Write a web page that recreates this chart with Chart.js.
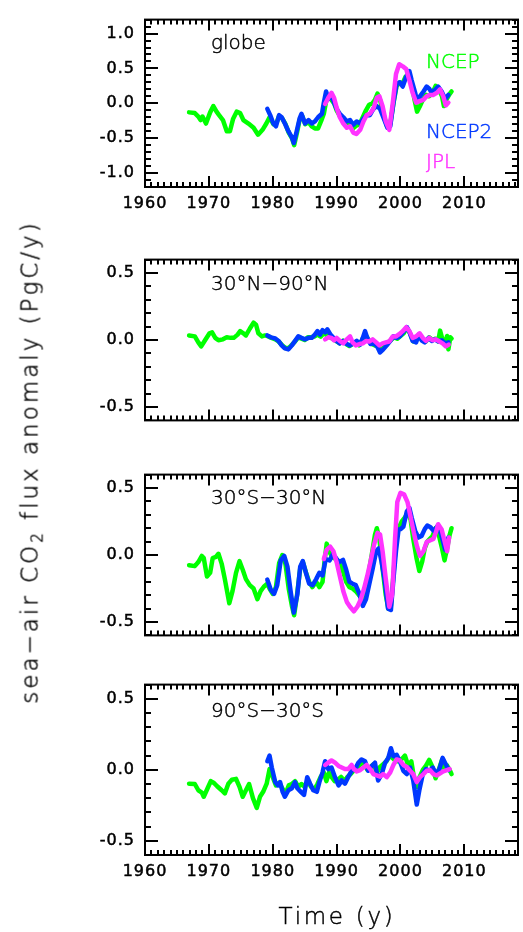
<!DOCTYPE html>
<html><head><meta charset="utf-8">
<script src="https://cdn.jsdelivr.net/npm/chart.js@4.4.1/dist/chart.umd.min.js"></script>
<style>
html,body{margin:0;padding:0;background:#fff;}
#wrap{position:relative;width:523px;height:932px;overflow:hidden;background:#fff;}
canvas{position:absolute;left:0;}
.t{position:absolute;font-family:"DejaVu Sans",sans-serif;font-weight:200;font-size:20px;line-height:20px;white-space:nowrap;color:#000;-webkit-text-stroke:0.45px currentColor;}
</style></head><body>
<div id="wrap">
<canvas id="p0" width="523" height="230" style="top:0px"></canvas>
<canvas id="p1" width="523" height="200" style="top:240px"></canvas>
<canvas id="p2" width="523" height="200" style="top:455px"></canvas>
<canvas id="p3" width="523" height="240" style="top:665px"></canvas>
</div>
<script>
// ---------------- data ----------------
const yearTicks = [1960, 1970, 1980, 1990, 2000, 2010];
const globeTicks = [-1.0, -0.5, 0.0, 0.5, 1.0];
const bandTicks = [-0.5, 0.0, 0.5];
const panelTitles = ['globe', '30°N−90°N', '30°S−30°N', '90°S−30°S'];
const seriesNames = ['NCEP', 'NCEP2', 'JPL'];

const globeNCEP = [[1966.9,-0.13],[1967.8,-0.14],[1968.35,-0.19],[1968.7,-0.24],[1969.0,-0.19],[1969.55,-0.29],[1970.2,-0.13],[1970.7,-0.04],[1971.2,-0.12],[1971.6,-0.17],[1972.2,-0.24],[1972.8,-0.40],[1973.3,-0.40],[1973.8,-0.22],[1974.35,-0.12],[1974.9,-0.14],[1975.4,-0.24],[1976.2,-0.29],[1977.0,-0.35],[1977.7,-0.45],[1978.4,-0.38],[1979.0,-0.29],[1979.5,-0.20],[1980.1,-0.30],[1980.6,-0.28],[1981.0,-0.18],[1981.5,-0.22],[1982.0,-0.30],[1982.5,-0.42],[1983.0,-0.50],[1983.35,-0.60],[1983.8,-0.42],[1984.2,-0.24],[1984.6,-0.18],[1985.1,-0.30],[1985.6,-0.27],[1986.1,-0.33],[1986.6,-0.36],[1987.1,-0.36],[1987.6,-0.25],[1988.0,-0.15],[1988.4,0.05],[1988.8,0.10],[1989.2,0.05],[1989.6,0.0],[1990.0,-0.10],[1990.5,-0.18],[1991.0,-0.22],[1991.6,-0.28],[1992.1,-0.30],[1992.6,-0.36],[1993.1,-0.32],[1993.6,-0.30],[1994.1,-0.20],[1994.6,-0.10],[1995.1,-0.02],[1995.6,0.0],[1996.0,0.05],[1996.4,0.14],[1996.8,0.05],[1997.3,-0.15],[1997.9,-0.33],[1998.4,-0.30],[1998.9,0.0],[1999.4,0.25],[1999.9,0.30],[2000.3,0.28],[2000.8,0.38],[2001.3,0.42],[2001.7,0.30],[2002.2,0.05],[2002.6,-0.12],[2003.0,-0.05],[2003.5,0.05],[2004.0,0.12],[2004.5,0.10],[2005.0,0.15],[2005.5,0.25],[2006.0,0.20],[2006.5,0.10],[2006.8,-0.04],[2007.2,0.05],[2007.6,0.12],[2008.0,0.17]];
const globeNCEP2 = [[1979.15,-0.08],[1979.6,-0.17],[1980.1,-0.29],[1980.5,-0.33],[1981.0,-0.17],[1981.4,-0.20],[1981.9,-0.29],[1982.45,-0.40],[1983.0,-0.49],[1983.3,-0.57],[1983.75,-0.40],[1984.2,-0.22],[1984.5,-0.15],[1985.05,-0.29],[1985.6,-0.24],[1986.1,-0.29],[1986.6,-0.26],[1987.1,-0.20],[1987.7,-0.15],[1988.0,0.01],[1988.35,0.17],[1988.7,0.06],[1989.2,0.12],[1989.6,0.01],[1990.0,-0.08],[1990.5,-0.15],[1991.05,-0.20],[1991.6,-0.26],[1992.1,-0.24],[1992.6,-0.31],[1993.15,-0.26],[1993.7,-0.29],[1994.2,-0.22],[1994.7,-0.17],[1995.2,-0.17],[1995.75,-0.08],[1996.3,-0.04],[1996.8,-0.08],[1997.4,-0.22],[1997.95,-0.35],[1998.4,-0.33],[1998.9,0.01],[1999.4,0.28],[1999.9,0.30],[2000.35,0.24],[2000.9,0.38],[2001.4,0.46],[2001.75,0.33],[2002.3,0.15],[2002.6,0.03],[2003.05,0.10],[2003.6,0.17],[2004.1,0.24],[2004.5,0.21],[2004.9,0.15],[2005.4,0.19],[2005.9,0.24],[2006.45,0.17],[2007.0,0.06],[2007.5,0.12]];
const globeJPL = [[1988.2,-0.01],[1988.7,0.08],[1989.2,0.15],[1989.6,0.08],[1990.0,-0.06],[1990.5,-0.20],[1991.05,-0.29],[1991.6,-0.35],[1992.1,-0.33],[1992.6,-0.42],[1993.1,-0.44],[1993.7,-0.38],[1994.2,-0.26],[1994.7,-0.17],[1995.2,-0.15],[1995.75,-0.08],[1996.3,0.08],[1996.7,0.10],[1997.2,-0.04],[1997.7,-0.26],[1998.25,-0.38],[1998.8,0.01],[1999.3,0.42],[1999.8,0.56],[2000.35,0.53],[2000.9,0.49],[2001.4,0.33],[2001.9,0.15],[2002.45,0.01],[2003.0,0.03],[2003.6,0.05],[2004.1,0.10],[2004.6,0.12],[2005.1,0.12],[2005.7,0.15],[2006.2,0.20],[2006.7,0.10],[2007.1,-0.03],[2007.5,0.01]];

const nhNCEP = [[1966.9,0.034],[1967.8,0.027],[1968.35,-0.018],[1968.8,-0.048],[1969.4,-0.002],[1970.1,0.05],[1970.5,0.057],[1971.0,0.016],[1971.5,-0.002],[1972.2,0.005],[1972.8,0.02],[1973.4,0.016],[1973.9,0.016],[1974.5,0.04],[1974.9,0.066],[1975.4,0.05],[1975.8,0.034],[1976.4,0.084],[1977.0,0.13],[1977.4,0.112],[1977.75,0.05],[1978.3,0.027],[1978.8,0.034],[1979.3,0.027],[1979.8,0.015],[1980.4,0.005],[1980.9,-0.01],[1981.5,-0.04],[1982.0,-0.06],[1982.5,-0.06],[1983.0,-0.035],[1983.5,-0.01],[1984.0,0.02],[1984.5,0.01],[1985.0,0.0],[1985.5,0.02],[1986.0,0.02],[1986.5,0.025],[1987.0,0.04],[1987.5,0.025],[1988.0,0.05],[1988.5,0.035],[1989.0,0.02],[1989.5,0.005],[1990.0,-0.01],[1990.5,-0.025],[1991.0,-0.005],[1991.5,-0.03],[1992.0,-0.045],[1992.5,-0.03],[1993.0,-0.02],[1993.5,-0.04],[1994.0,0.0],[1994.5,0.04],[1995.0,0.0],[1995.5,-0.03],[1996.0,-0.04],[1996.5,-0.05],[1997.0,-0.07],[1997.5,-0.05],[1998.0,-0.02],[1998.5,0.0],[1999.0,0.02],[1999.5,0.01],[2000.0,0.03],[2000.5,0.05],[2001.0,0.09],[2001.5,0.05],[2002.0,-0.01],[2002.5,0.0],[2003.0,0.03],[2003.5,0.0],[2004.0,-0.01],[2004.5,0.02],[2005.0,0.0],[2005.5,0.01],[2005.9,-0.01],[2006.2,0.07],[2006.6,0.0],[2007.0,-0.02],[2007.3,0.03],[2007.5,-0.07],[2007.8,0.02],[2008.0,0.01]];
const nhNCEP2 = [[1979.15,0.034],[1979.7,0.02],[1980.4,0.012],[1980.9,-0.007],[1981.4,-0.04],[1981.9,-0.063],[1982.45,-0.07],[1983.0,-0.04],[1983.5,-0.007],[1984.0,0.027],[1984.5,0.016],[1985.05,0.005],[1985.6,0.016],[1986.1,0.016],[1986.6,0.04],[1987.0,0.066],[1987.4,0.04],[1987.8,0.073],[1988.2,0.057],[1988.55,0.08],[1989.0,0.043],[1989.5,0.016],[1990.0,-0.007],[1990.5,-0.025],[1991.05,-0.007],[1991.6,-0.03],[1992.1,-0.04],[1992.6,-0.025],[1993.15,-0.007],[1993.7,-0.034],[1994.1,0.016],[1994.45,0.066],[1994.8,0.016],[1995.3,-0.03],[1995.85,-0.025],[1996.4,-0.052],[1996.8,-0.093],[1997.3,-0.07],[1997.85,-0.04],[1998.4,-0.007],[1998.9,0.027],[1999.4,0.016],[1999.9,0.027],[2000.45,0.06],[2001.0,0.096],[2001.4,0.06],[2001.9,-0.007],[2002.45,-0.018],[2002.85,0.04],[2003.3,-0.002],[2003.8,-0.018],[2004.4,0.016],[2004.9,-0.007],[2005.4,0.005],[2005.9,-0.011],[2006.45,-0.002],[2007.0,-0.025],[2007.5,-0.018]];
const nhJPL = [[1988.2,0.005],[1988.7,0.02],[1989.2,0.016],[1989.6,-0.002],[1990.0,0.016],[1990.5,-0.007],[1991.05,-0.025],[1991.6,0.005],[1992.1,0.027],[1992.5,-0.018],[1993.0,-0.04],[1993.6,-0.03],[1994.1,-0.025],[1994.6,-0.007],[1995.1,-0.011],[1995.65,0.005],[1996.2,-0.018],[1996.7,-0.04],[1997.2,-0.025],[1997.7,-0.018],[1998.25,-0.011],[1998.8,0.027],[1999.3,0.027],[1999.8,0.043],[2000.35,0.066],[2000.9,0.096],[2001.4,0.066],[2001.9,0.016],[2002.45,0.027],[2003.0,0.05],[2003.5,0.016],[2004.0,-0.007],[2004.5,0.016],[2005.0,-0.002],[2005.5,0.005],[2006.1,-0.011],[2006.6,-0.025],[2007.1,-0.048],[2007.55,-0.034]];

const tropNCEP = [[1966.9,-0.076],[1967.8,-0.083],[1968.35,-0.053],[1968.9,-0.007],[1969.2,-0.023],[1969.7,-0.16],[1970.2,-0.133],[1970.6,-0.023],[1971.1,-0.014],[1971.5,0.009],[1972.0,-0.064],[1972.5,-0.18],[1973.2,-0.36],[1973.7,-0.27],[1974.25,-0.133],[1974.8,-0.046],[1975.3,-0.11],[1975.8,-0.18],[1976.4,-0.225],[1977.0,-0.25],[1977.6,-0.33],[1978.1,-0.27],[1978.6,-0.237],[1979.15,-0.214],[1979.5,-0.25],[1980.0,-0.29],[1980.5,-0.24],[1981.0,-0.06],[1981.5,0.0],[1982.0,-0.07],[1982.5,-0.25],[1983.0,-0.38],[1983.35,-0.45],[1983.8,-0.30],[1984.3,-0.10],[1984.7,-0.05],[1985.2,-0.13],[1985.7,-0.20],[1986.2,-0.24],[1986.8,-0.20],[1987.3,-0.24],[1987.8,-0.20],[1988.1,-0.05],[1988.45,0.085],[1988.9,0.02],[1989.4,-0.02],[1989.9,-0.03],[1990.4,-0.06],[1991.0,-0.12],[1991.5,-0.20],[1992.0,-0.24],[1992.5,-0.25],[1993.0,-0.27],[1993.5,-0.30],[1994.0,-0.32],[1994.5,-0.27],[1995.0,-0.14],[1995.5,0.0],[1996.0,0.15],[1996.3,0.20],[1996.7,0.12],[1997.2,-0.10],[1997.7,-0.30],[1998.1,-0.40],[1998.5,-0.38],[1998.9,-0.15],[1999.3,0.10],[1999.7,0.20],[2000.2,0.25],[2000.7,0.28],[2001.2,0.32],[2001.6,0.26],[2002.0,0.12],[2002.5,-0.02],[2002.95,-0.12],[2003.4,-0.05],[2003.8,0.05],[2004.2,0.10],[2004.6,0.12],[2005.0,0.14],[2005.5,0.20],[2006.0,0.15],[2006.5,0.05],[2006.9,-0.04],[2007.3,0.05],[2007.7,0.15],[2008.0,0.20]];
const tropNCEP2 = [[1979.15,-0.184],[1979.7,-0.26],[1980.2,-0.29],[1980.7,-0.225],[1981.25,-0.041],[1981.8,-0.007],[1982.3,-0.087],[1982.8,-0.27],[1983.3,-0.43],[1983.85,-0.294],[1984.3,-0.087],[1984.7,-0.046],[1985.2,-0.133],[1985.7,-0.214],[1986.25,-0.225],[1986.8,-0.18],[1987.3,-0.133],[1987.8,-0.152],[1988.3,-0.03],[1988.9,-0.041],[1989.4,0.005],[1989.9,-0.023],[1990.4,-0.053],[1991.0,-0.037],[1991.5,-0.11],[1992.0,-0.20],[1992.5,-0.214],[1993.0,-0.225],[1993.6,-0.294],[1994.1,-0.38],[1994.6,-0.33],[1995.1,-0.22],[1995.65,-0.10],[1996.2,0.03],[1996.6,0.05],[1997.0,-0.041],[1997.5,-0.18],[1998.05,-0.40],[1998.5,-0.41],[1998.9,-0.18],[1999.3,0.03],[1999.7,0.19],[2000.0,0.193],[2000.45,0.21],[2001.0,0.326],[2001.4,0.35],[2001.75,0.28],[2002.3,0.18],[2002.8,0.13],[2003.3,0.142],[2003.8,0.193],[2004.2,0.22],[2004.7,0.207],[2005.25,0.177],[2005.8,0.216],[2006.3,0.165],[2007.0,0.04],[2007.5,0.13]];
const tropJPL = [[1988.0,-0.03],[1988.45,0.04],[1989.0,0.062],[1989.5,0.028],[1990.0,-0.053],[1990.5,-0.156],[1991.05,-0.27],[1991.6,-0.35],[1992.1,-0.386],[1992.7,-0.42],[1993.25,-0.386],[1993.8,-0.33],[1994.3,-0.25],[1994.8,-0.156],[1995.35,-0.041],[1995.85,0.074],[1996.4,0.165],[1996.8,0.154],[1997.2,0.028],[1997.7,-0.18],[1998.25,-0.386],[1998.7,-0.294],[1999.15,0.12],[1999.5,0.395],[2000.0,0.464],[2000.55,0.453],[2001.1,0.395],[2001.6,0.28],[2002.1,0.165],[2002.6,0.062],[2003.05,-0.007],[2003.6,0.028],[2004.1,0.097],[2004.6,0.108],[2005.15,0.12],[2005.6,0.177],[2005.9,0.23],[2006.45,0.19],[2007.0,0.085],[2007.3,0.028],[2007.6,0.13]];

const shNCEP = [[1966.9,-0.098],[1967.8,-0.10],[1968.35,-0.144],[1968.9,-0.16],[1969.2,-0.19],[1969.8,-0.13],[1970.3,-0.08],[1970.8,-0.093],[1971.3,-0.116],[1972.0,-0.144],[1972.5,-0.166],[1973.05,-0.098],[1973.6,-0.07],[1974.25,-0.064],[1974.8,-0.12],[1975.3,-0.19],[1975.8,-0.144],[1976.3,-0.10],[1976.9,-0.20],[1977.5,-0.268],[1978.0,-0.19],[1978.5,-0.155],[1979.05,-0.098],[1979.5,0.005],[1980.0,-0.052],[1980.5,-0.11],[1981.0,-0.09],[1981.5,-0.13],[1982.0,-0.17],[1982.5,-0.11],[1983.0,-0.10],[1983.5,-0.08],[1984.0,-0.12],[1984.5,-0.10],[1985.0,-0.12],[1985.5,-0.08],[1986.0,-0.12],[1986.5,-0.14],[1987.0,-0.10],[1987.5,-0.05],[1988.0,-0.02],[1988.4,-0.08],[1988.8,-0.02],[1989.2,-0.05],[1989.7,-0.08],[1990.2,-0.07],[1990.7,-0.05],[1991.2,-0.08],[1991.7,-0.05],[1992.2,-0.03],[1992.8,0.0],[1993.3,0.02],[1993.8,0.04],[1994.3,0.05],[1994.8,0.0],[1995.3,0.02],[1995.8,0.04],[1996.3,-0.02],[1996.8,0.02],[1997.3,0.04],[1997.8,0.06],[1998.3,0.10],[1998.8,0.08],[1999.3,0.06],[1999.8,0.06],[2000.3,0.08],[2000.7,0.10],[2001.2,0.03],[2001.7,0.06],[2002.2,-0.08],[2002.6,-0.12],[2003.0,-0.05],[2003.5,0.0],[2004.0,0.03],[2004.5,0.07],[2005.0,0.02],[2005.5,-0.06],[2006.0,0.0],[2006.5,0.07],[2006.9,0.0],[2007.3,0.03],[2007.7,0.0],[2008.0,-0.03]];
const shNCEP2 = [[1979.15,0.06],[1979.5,0.10],[1979.85,0.016],[1980.4,-0.087],[1980.8,-0.11],[1981.15,-0.087],[1981.55,-0.155],[1981.9,-0.19],[1982.45,-0.144],[1983.0,-0.13],[1983.5,-0.087],[1983.85,-0.13],[1984.4,-0.155],[1984.9,-0.177],[1985.4,-0.052],[1985.85,-0.098],[1986.35,-0.144],[1986.9,-0.155],[1987.3,-0.087],[1987.8,-0.018],[1988.2,0.06],[1988.7,0.005],[1989.2,0.016],[1989.75,-0.052],[1990.3,-0.11],[1990.8,-0.075],[1991.3,-0.098],[1991.8,-0.052],[1992.35,-0.007],[1992.9,0.005],[1993.4,0.05],[1993.9,0.073],[1994.45,0.06],[1994.95,-0.007],[1995.5,0.027],[1996.0,0.05],[1996.5,-0.075],[1997.05,-0.03],[1997.6,0.05],[1998.1,0.084],[1998.5,0.152],[1998.9,0.095],[1999.4,0.106],[1999.9,0.06],[2000.45,-0.007],[2001.0,-0.03],[2001.5,0.016],[2002.0,-0.075],[2002.55,-0.245],[2002.95,-0.144],[2003.5,-0.03],[2004.0,0.005],[2004.5,-0.007],[2005.05,0.016],[2005.6,-0.03],[2006.1,0.005],[2006.6,0.084],[2007.1,0.038],[2007.55,-0.002]];
const shJPL = [[1988.2,0.034],[1988.7,0.05],[1989.2,0.066],[1989.75,0.05],[1990.3,0.027],[1990.8,0.016],[1991.3,0.005],[1991.8,0.005],[1992.35,0.034],[1992.7,0.005],[1993.15,-0.011],[1993.7,-0.002],[1994.2,0.016],[1994.7,0.034],[1995.25,0.005],[1995.75,-0.03],[1996.3,-0.04],[1996.8,-0.048],[1997.3,-0.03],[1997.85,-0.052],[1998.4,-0.018],[1998.9,0.034],[1999.4,0.073],[1999.9,0.066],[2000.45,0.034],[2001.0,0.02],[2001.5,-0.007],[2002.0,-0.03],[2002.55,-0.087],[2003.05,-0.052],[2003.6,-0.03],[2004.1,-0.007],[2004.6,-0.002],[2005.15,-0.03],[2005.7,-0.04],[2006.2,-0.025],[2006.7,-0.011],[2007.25,-0.002],[2007.7,0.005]];

// ---------------- style ----------------
const GREEN = '#00ff00', BLUE = '#0038ff', MAGENTA = '#ff33ff';
const TICK_FONT = {family: 'DejaVu Sans', size: 16};

const framePlugin = {
  id: 'frame',
  beforeDraw(chart) { chart.ctx.letterSpacing = '1px'; },
  afterDraw(chart) {
    const ctx = chart.ctx, a = chart.chartArea, x = chart.scales.x, y = chart.scales.y;
    ctx.save();
    ctx.letterSpacing = '0px';
    ctx.strokeStyle = '#000';
    ctx.lineWidth = 2;
    ctx.strokeRect(a.left, a.top, a.right - a.left, a.bottom - a.top);
    ctx.beginPath();
    for (let yr = Math.ceil(x.min); yr <= x.max; yr++) {
      const px = Math.round(x.getPixelForValue(yr));
      const len = yr % 10 === 0 ? 11 : 5;
      ctx.moveTo(px, a.top); ctx.lineTo(px, a.top + len);
      ctx.moveTo(px, a.bottom); ctx.lineTo(px, a.bottom - len);
    }
    const n = Math.round(y.max * 10);
    for (let k = -n; k <= n; k++) {
      const py = Math.round(y.getPixelForValue(k / 10));
      const len = k % 5 === 0 ? 13 : 6;
      ctx.moveTo(a.left, py); ctx.lineTo(a.left + len, py);
      ctx.moveTo(a.right, py); ctx.lineTo(a.right - len, py);
    }
    ctx.stroke();
    ctx.restore();
  }
};

function toXY(arr) { return arr.map(p => ({x: p[0], y: p[1]})); }
function ds(label, arr, color, order) {
  return {label, data: toXY(arr), borderColor: color, backgroundColor: color, borderWidth: 4.5,
    pointRadius: 0, fill: false, tension: 0, order, borderJoinStyle: 'round', borderCapStyle: 'round'};
}

function makePanel(id, series, lim, ticks, showX, padTop, padBottom, xAxisH) {
  return new Chart(document.getElementById(id), {
    type: 'line',
    data: {datasets: [
      ds(seriesNames[0], series[0], GREEN, 3),
      ds(seriesNames[1], series[1], BLUE, 2),
      ds(seriesNames[2], series[2], MAGENTA, 1)
    ]},
    options: {
      responsive: false, animation: false, events: [],
      layout: {padding: {left: 0, right: 5, top: padTop, bottom: padBottom}},
      plugins: {legend: {display: false}, tooltip: {enabled: false}},
      scales: {
        x: {type: 'linear', min: 1960, max: 2018.4, display: showX,
          grid: {display: false, drawTicks: false}, border: {display: false},
          ticks: {font: TICK_FONT, color: '#000', padding: 7, maxRotation: 0, autoSkip: false,
            textStrokeColor: '#000', textStrokeWidth: 0.5,
            callback: v => String(v)},
          afterBuildTicks: s => { s.ticks = yearTicks.map(v => ({value: v})); },
          afterFit: s => { s.height = xAxisH; }
        },
        y: {type: 'linear', min: -lim, max: lim,
          grid: {display: false, drawTicks: false}, border: {display: false},
          ticks: {font: TICK_FONT, color: '#000', padding: 10,
            textStrokeColor: '#000', textStrokeWidth: 0.5,
            callback: v => v.toFixed(1)},
          afterBuildTicks: s => { s.ticks = ticks.map(v => ({value: v})); },
          afterFit: s => { s.width = 145; }
        }
      }
    },
    plugins: [framePlugin]
  });
}

makePanel('p0', [globeNCEP, globeNCEP2, globeJPL], 1.2, globeTicks, true, 14, 0, 43);
makePanel('p1', [nhNCEP, nhNCEP2, nhJPL], 0.6, bandTicks, false, 14, 12, 0);
makePanel('p2', [tropNCEP, tropNCEP2, tropJPL], 0.6, bandTicks, false, 13, 13, 0);
makePanel('p3', [shNCEP, shNCEP2, shJPL], 0.6, bandTicks, true, 15, 0, 50);

// ---------------- text overlays ----------------
const wrap = document.getElementById('wrap');
function addText(html, css) {
  const d = document.createElement('div');
  d.className = 't';
  d.innerHTML = html;
  Object.assign(d.style, css);
  wrap.appendChild(d);
  return d;
}
const titleTops = [32, 273, 487, 700];
panelTitles.forEach((t, i) => addText(t, {left: '211px', top: titleTops[i] + 'px'}));
addText(seriesNames[0], {left: '426px', top: '51px', color: GREEN});
addText(seriesNames[1], {left: '426px', top: '121px', color: BLUE});
addText(seriesNames[2], {left: '426px', top: '151px', color: MAGENTA});
addText('Time (y)', {left: '337px', top: '905px', fontSize: '23px', lineHeight: '23px',
  letterSpacing: '2.7px', transform: 'translateX(-50%)'});
addText('sea−air CO<sub style="font-size:15px;vertical-align:-5px;line-height:0">2</sub> flux anomaly (PgC/y)',
  {left: '30px', top: '462px', fontSize: '23px', lineHeight: '23px', letterSpacing: '3px',
   transform: 'translate(-50%,-50%) rotate(-90deg)'});
</script>
</body></html>
